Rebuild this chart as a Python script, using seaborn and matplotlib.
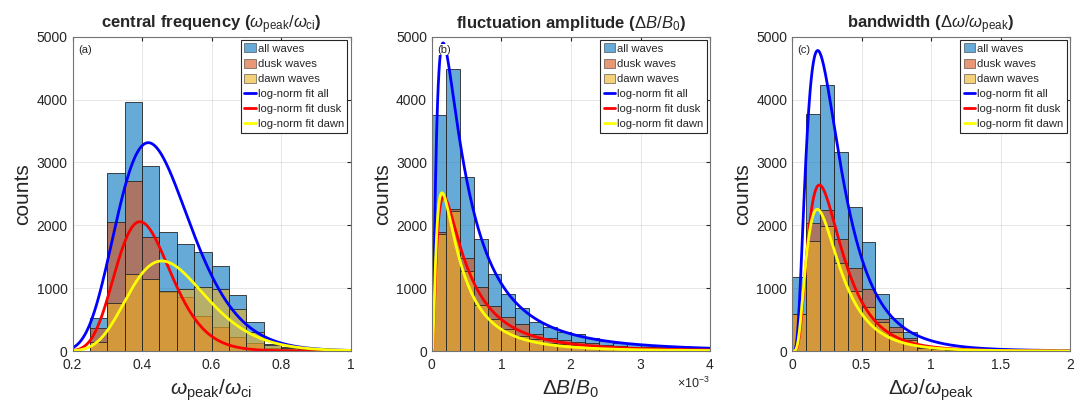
#!/usr/bin/env python3
import numpy as np
import pandas as pd
import matplotlib
matplotlib.use("Agg")
import matplotlib.pyplot as plt
import seaborn as sns
from matplotlib.ticker import ScalarFormatter
from matplotlib.patches import Patch
from matplotlib.lines import Line2D

# ---- data ------------------------------------------------------------------

# (a) central frequency, bins of 0.05 starting at 0.25
freq_edges = [0.25, 0.30, 0.35, 0.40, 0.45, 0.50, 0.55, 0.60,
              0.65, 0.70, 0.75, 0.80, 0.85, 0.90, 0.95, 1.00]
freq_all = [530, 2837, 3955, 2943, 1888, 1697, 1580, 1352, 891, 467, 110, 60, 35, 20, 10]
freq_dusk = [371, 2057, 2710, 1808, 944, 864, 562, 387, 228, 122, 40, 25, 15, 8, 4]
freq_dawn = [148, 769, 1230, 1140, 954, 981, 1023, 981, 663, 308, 95, 40, 20, 10, 5]

# (b) fluctuation amplitude dB/B0, bins of 0.2e-3
amp_edges = [i * 0.2e-3 for i in range(21)]
amp_all = [3749, 4480, 2773, 1776, 1220, 901, 679, 467, 387, 308,
           270, 201, 164, 133, 111, 95, 69, 58, 42, 32]
amp_dusk = [1893, 2251, 1477, 1013, 720, 544, 427, 277, 213, 170,
            148, 122, 95, 80, 69, 58, 48, 37, 32, 27]
amp_dawn = [1856, 2224, 1280, 736, 507, 347, 240, 187, 133, 110,
            100, 85, 69, 58, 48, 42, 32, 27, 21, 16]

# (c) bandwidth, bins of 0.1
bw_edges = [i * 0.1 for i in range(21)]
bw_all = [1172, 3770, 4231, 3171, 2285, 1729, 901, 530, 297, 69,
          42, 25, 15, 10, 8, 5, 4, 3, 2, 1]
bw_dusk = [584, 2031, 2238, 1776, 1315, 981, 504, 387, 201, 60,
           35, 20, 12, 8, 5, 4, 3, 2, 1, 1]
bw_dawn = [584, 1745, 1990, 1395, 958, 700, 455, 307, 175, 55,
           30, 18, 10, 7, 5, 3, 2, 2, 1, 1]

# log-normal fits: (mode, sigma, peak counts) for all / dusk / dawn
freq_fits = [(0.418, 0.254, 3314), (0.394, 0.202, 2057), (0.457, 0.244, 1432)]
amp_fits = [(0.16e-3, 1.05, 4900), (0.168e-3, 1.0, 2453), (0.144e-3, 0.97, 2517)]
bw_fits = [(0.185, 0.65, 4780), (0.197, 0.60, 2641), (0.182, 0.62, 2254)]

labels = ["all waves", "dusk waves", "dawn waves",
          "log-norm fit all", "log-norm fit dusk", "log-norm fit dawn"]

# ---- style -----------------------------------------------------------------
sns.set_style("white")
plt.rcParams["font.family"] = ["Liberation Sans", "DejaVu Sans"]
plt.rcParams["mathtext.fontset"] = "custom"
plt.rcParams["mathtext.rm"] = "Liberation Sans"
plt.rcParams["mathtext.it"] = "Liberation Sans:italic"
plt.rcParams["mathtext.bf"] = "Liberation Sans:bold"

bar_cols = [(0.0, 0.447, 0.741), (0.85, 0.325, 0.098), (0.929, 0.694, 0.125)]
line_cols = ["#0000ff", "#ff0000", "#ffff00"]
axcol = (0.15, 0.15, 0.15)


def lognorm_curve(x, mode, sigma, peak):
    return peak * np.exp(-np.log(x / mode) ** 2 / (2 * sigma ** 2))


def panel(ax, edges, hists, fits, xlim, tag):
    edges = np.asarray(edges)
    centers = (edges[:-1] + edges[1:]) / 2
    for counts, col in zip(hists, bar_cols):
        df = pd.DataFrame({"x": centers, "w": counts})
        sns.histplot(data=df, x="x", weights="w", bins=list(edges), ax=ax,
                     color=col, alpha=0.6, edgecolor=axcol, linewidth=0.6)
    xs = np.linspace(xlim[0] + (xlim[1] - xlim[0]) * 1e-4, xlim[1], 800)
    for (m, s, p), col in zip(fits, line_cols):
        sns.lineplot(x=xs, y=lognorm_curve(xs, m, s, p), ax=ax, color=col, lw=2)
    ax.set_xlim(*xlim)
    ax.set_ylim(0, 5000)
    ax.set_yticks(range(0, 5001, 1000))
    ax.set_axisbelow(True)
    ax.grid(True, color=axcol, alpha=0.13, lw=0.6)
    ax.tick_params(direction="in", top=True, right=True, length=3,
                   labelsize=10, colors=axcol, labelcolor=axcol)
    ax.tick_params(axis="x", pad=5)
    for sp in ax.spines.values():
        sp.set_color((0.45, 0.45, 0.45))
        sp.set_linewidth(0.8)
    ax.set_ylabel("counts", fontsize=15, labelpad=3)
    ax.text(0.02, 0.975, tag, transform=ax.transAxes, fontsize=8, va="top",
            ha="left", bbox=dict(facecolor="white", edgecolor="none", pad=0.5))
    handles = [Patch(facecolor=c, alpha=0.6, edgecolor=axcol, lw=0.6) for c in bar_cols]
    handles += [Line2D([], [], color=c, lw=2) for c in line_cols]
    leg = ax.legend(handles, labels, loc="upper right", fontsize=8.1,
                    frameon=True, fancybox=False, framealpha=1,
                    borderpad=0.3, labelspacing=0.42, handlelength=1.05,
                    handleheight=0.85, handletextpad=0.15, borderaxespad=0.3)
    leg.get_frame().set_edgecolor(axcol)
    leg.get_frame().set_linewidth(0.8)


fig = plt.figure(figsize=(10.87, 4.08), dpi=100)
ax1 = fig.add_axes([0.0667, 0.1397, 0.2558, 0.7704])
ax2 = fig.add_axes([0.3974, 0.1397, 0.2558, 0.7704])
ax3 = fig.add_axes([0.7286, 0.1397, 0.2558, 0.7704])

panel(ax1, freq_edges, [freq_all, freq_dusk, freq_dawn], freq_fits, (0.2, 1.0), "(a)")
ax1.set_xticks([0.2, 0.4, 0.6, 0.8, 1.0])
ax1.set_xticklabels(["0.2", "0.4", "0.6", "0.8", "1"])
ax1.set_xlabel(r"$\omega_{\rm peak}/\omega_{\rm ci}$", fontsize=15)
ax1.set_title(r"central frequency ($\omega_{\rm peak}/\omega_{\rm ci}$)",
              fontsize=12, fontweight="bold", pad=6)

panel(ax2, amp_edges, [amp_all, amp_dusk, amp_dawn], amp_fits, (0, 4e-3), "(b)")
ax2.set_xticks([0, 1e-3, 2e-3, 3e-3, 4e-3])
fmt = ScalarFormatter(useMathText=True)
fmt.set_powerlimits((-2, 2))
ax2.xaxis.set_major_formatter(fmt)
ax2.xaxis.get_offset_text().set_fontsize(9)
ax2.xaxis.get_offset_text().set_color(axcol)
ax2.set_xlabel(r"$\Delta B/B_0$", fontsize=15)
ax2.set_title(r"fluctuation amplitude ($\Delta B/B_0$)",
              fontsize=12, fontweight="bold", pad=6)

panel(ax3, bw_edges, [bw_all, bw_dusk, bw_dawn], bw_fits, (0, 2.0), "(c)")
ax3.set_xticks([0, 0.5, 1.0, 1.5, 2.0])
ax3.set_xticklabels(["0", "0.5", "1", "1.5", "2"])
ax3.set_xlabel(r"$\Delta\omega/\omega_{\rm peak}$", fontsize=15)
ax3.set_title(r"bandwidth ($\Delta\omega/\omega_{\rm peak}$)",
              fontsize=12, fontweight="bold", pad=6)

fig.savefig("out.png", dpi=100)
